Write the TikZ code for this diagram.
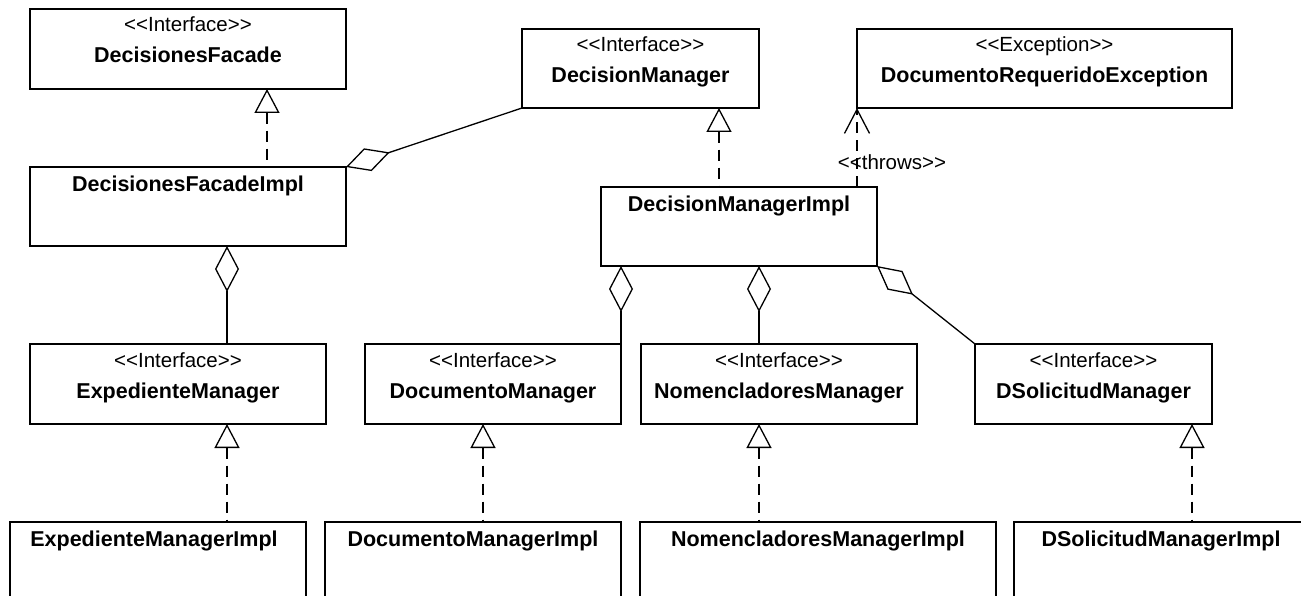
\documentclass[tikz,border=0pt]{standalone}
\usepackage{fontspec}
\newfontfamily\umlfont{Liberation Sans}
\usetikzlibrary{arrows.meta}
% stereotype text, kerns keep << and >> from turning into guillemets
\newcommand\stereo[1]{<\kern0pt<#1>\kern0pt>}

\begin{document}
\begin{tikzpicture}[x=1pt,y=-1pt,
  cls/.style={draw, line width=1.3pt, anchor=north west, inner sep=0pt, outer sep=0pt},
  stype/.style={font=\umlfont\fontsize{20.5}{24}\selectfont, anchor=base, inner sep=0pt},
  cname/.style={font=\umlfont\bfseries\fontsize{21.5}{26}\selectfont, anchor=base, inner sep=0pt},
  conn/.style={line width=1.3pt},
  realize/.style={conn, dash pattern=on 11pt off 7pt,
    {Triangle[open, length=24pt, width=25pt, line width=1.3pt]}-},
  aggr/.style={conn, {Diamond[open, length=46pt, width=24pt, line width=1.3pt]}-},
  depend/.style={conn, dash pattern=on 11pt off 7pt,
    -{Straight Barb[length=24pt, width=25pt, line width=1.3pt]}},
  lbl/.style={font=\umlfont\fontsize{20.5}{24}\selectfont, inner sep=0pt}
]
\useasboundingbox (0,0) rectangle (1301,596);
\clip (0,0) rectangle (1301,596);

% ---------- class boxes ----------
\node[cls, minimum width=316pt, minimum height=80pt] (dfac)   at (30,9)    {};
\node[cls, minimum width=316pt, minimum height=79pt] (dfimpl) at (30,167)  {};
\node[cls, minimum width=237pt, minimum height=79pt] (dm)     at (522,29)  {};
\node[cls, minimum width=375pt, minimum height=79pt] (exc)    at (857,29)  {};
\node[cls, minimum width=276pt, minimum height=79pt] (dmimpl) at (601,187) {};
\node[cls, minimum width=296pt, minimum height=80pt] (expm)   at (30,344)  {};
\node[cls, minimum width=256pt, minimum height=80pt] (docm)   at (365,344) {};
\node[cls, minimum width=276pt, minimum height=80pt] (nomm)   at (641,344) {};
\node[cls, minimum width=237pt, minimum height=80pt] (dsm)    at (975,344) {};
\node[cls, minimum width=296pt, minimum height=120pt] (expi)  at (10,522)  {};
\node[cls, minimum width=296pt, minimum height=120pt] (doci)  at (325,522) {};
\node[cls, minimum width=356pt, minimum height=120pt] (nomi)  at (640,522) {};
\node[cls, minimum width=294pt, minimum height=120pt] (dsi)   at (1014,522) {};

% ---------- texts ----------
\node[stype, yshift=-23pt] (dfac-s) at (dfac.north) {\stereo{Interface}};
\node[cname, yshift=-54pt] (dfac-n) at (dfac.north) {DecisionesFacade};
\node[cname, yshift=-24.5pt] (dfimpl-n) at (dfimpl.north) {DecisionesFacadeImpl};
\node[stype, yshift=-23pt] (dm-s) at (dm.north) {\stereo{Interface}};
\node[cname, yshift=-54pt] (dm-n) at (dm.north) {DecisionManager};
\node[stype, yshift=-23pt] (exc-s) at (exc.north) {\stereo{Exception}};
\node[cname, yshift=-54pt] (exc-n) at (exc.north) {DocumentoRequeridoException};
\node[cname, yshift=-24.5pt] (dmimpl-n) at (dmimpl.north) {DecisionManagerImpl};
\node[stype, yshift=-23pt] (expm-s) at (expm.north) {\stereo{Interface}};
\node[cname, yshift=-54pt] (expm-n) at (expm.north) {ExpedienteManager};
\node[stype, yshift=-23pt] (docm-s) at (docm.north) {\stereo{Interface}};
\node[cname, yshift=-54pt] (docm-n) at (docm.north) {DocumentoManager};
\node[stype, yshift=-23pt] (nomm-s) at (nomm.north) {\stereo{Interface}};
\node[cname, yshift=-54pt] (nomm-n) at (nomm.north) {NomencladoresManager};
\node[stype, yshift=-23pt] (dsm-s) at (dsm.north) {\stereo{Interface}};
\node[cname, yshift=-54pt] (dsm-n) at (dsm.north) {DSolicitudManager};
\node[cname, yshift=-24.5pt, xshift=-4pt] (expi-n) at (expi.north) {ExpedienteManagerImpl};
\node[cname, yshift=-24.5pt] (doci-n) at (doci.north) {DocumentoManagerImpl};
\node[cname, yshift=-24.5pt] (nomi-n) at (nomi.north) {NomencladoresManagerImpl};
\node[cname, yshift=-24.5pt] (dsi-n) at (dsi.north) {DSolicitudManagerImpl};

% ---------- realizations ----------
\draw[realize] ([xshift=237pt]dfac.south west) -- ([xshift=237pt]dfimpl.north west);
\draw[realize] ([xshift=197pt]dm.south west) -- ([xshift=118pt]dmimpl.north west);
\draw[realize] ([xshift=197pt]expm.south west) -- ([xshift=217pt]expi.north west);
\draw[realize] ([xshift=118pt]docm.south west) -- ([xshift=158pt]doci.north west);
\draw[realize] ([xshift=118pt]nomm.south west) -- ([xshift=119pt]nomi.north west);
\draw[realize] ([xshift=-20pt]dsm.south east) -- ([xshift=178pt]dsi.north west);

% ---------- aggregations ----------
\draw[aggr] (dfimpl.north east) -- (dm.south west);
\draw[aggr] ([xshift=197pt]dfimpl.south west) -- ([xshift=197pt]expm.north west);
\draw[aggr] ([xshift=20pt]dmimpl.south west) -- (docm.north east);
\draw[aggr] ([xshift=158pt]dmimpl.south west) -- ([xshift=118pt]nomm.north west);
\draw[aggr] (dmimpl.south east) -- (dsm.north west);

% ---------- dependency ----------
\draw[depend] ([xshift=-20pt]dmimpl.north east) -- (exc.south west)
  node[lbl, pos=0.32, xshift=35pt] (throws) {\stereo{throws}};
\end{tikzpicture}
\end{document}
